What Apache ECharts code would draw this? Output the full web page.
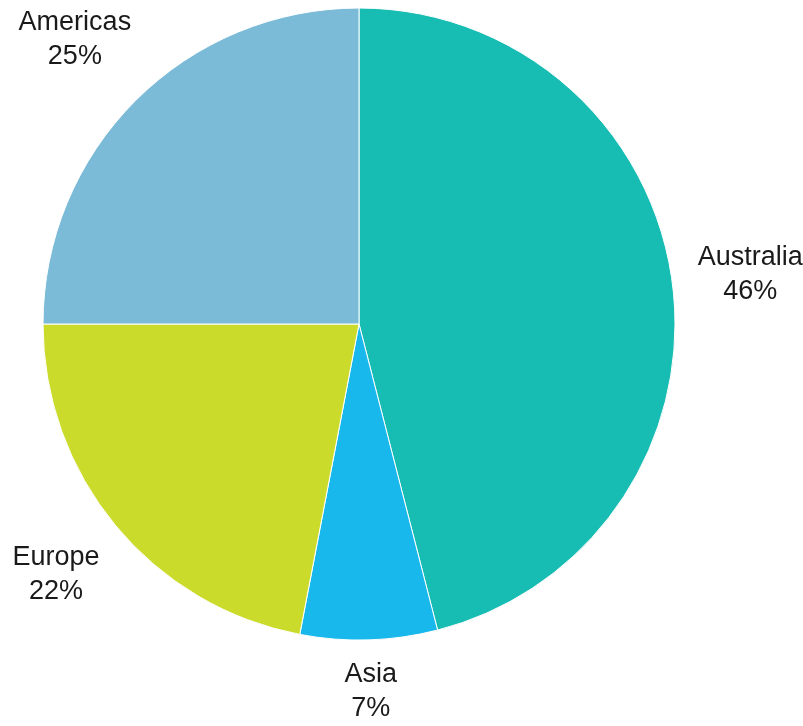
<!DOCTYPE html>
<html><head><meta charset="utf-8">
<script src="https://cdn.jsdelivr.net/npm/echarts@6/dist/echarts.min.js"></script>
<style>html,body{margin:0;padding:0;background:#fff}#main{width:803px;height:726px}</style>
</head><body><div id="main"></div>
<script>
const categories = ['Australia', 'Asia', 'Europe', 'Americas'];
const values = [46, 7, 22, 25];
const colors = ['#17BCB3', '#19B8EC', '#CADB2B', '#7BBBD7'];

const chart = echarts.init(document.getElementById('main'), null, { renderer: 'canvas' });
const GAP = 22;

function placeLabel(params) {
  const data = chart.getModel().getSeriesByIndex(0).getData();
  const lay = data.getItemLayout(params.dataIndex);
  const mid = (lay.startAngle + lay.endAngle) / 2;
  const ux = Math.cos(mid), uy = Math.sin(mid);
  const ex = lay.cx + lay.r * ux, ey = lay.cy + lay.r * uy;
  const w = params.labelRect.width / 2, h = params.labelRect.height / 2;
  const d = GAP + w * Math.abs(ux) + h * Math.abs(uy);
  let x = ex + ux * d, y = ey + uy * d;
  const W = chart.getWidth(), H = chart.getHeight();
  x = Math.min(Math.max(x, w), W - w);
  y = Math.min(Math.max(y, h), H - h);
  return { x: x, y: y, align: 'center', verticalAlign: 'middle' };
}

chart.setOption({
  animation: false,
  backgroundColor: '#ffffff',
  series: [{
    type: 'pie',
    center: [359, 324],
    radius: 316,
    startAngle: 90,
    clockwise: true,
    avoidLabelOverlap: false,
    itemStyle: { borderColor: '#ffffff', borderWidth: 1 },
    label: {
      show: true,
      position: 'outside',
      formatter: '{b}\n{c}%',
      fontFamily: "'Liberation Sans', Arial, sans-serif",
      fontSize: 27,
      lineHeight: 34,
      color: '#1a1a1a',
      align: 'center'
    },
    labelLine: { show: false },
    labelLayout: placeLabel,
    emphasis: { disabled: true },
    data: categories.map((c, i) => ({ name: c, value: values[i], itemStyle: { color: colors[i] } }))
  }]
});
</script>
</body></html>
